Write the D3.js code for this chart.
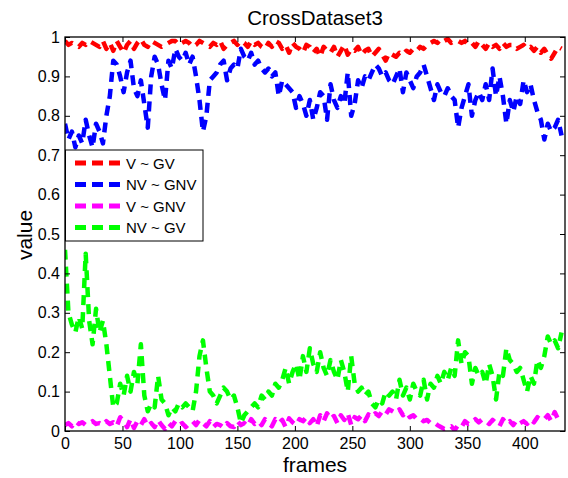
<!DOCTYPE html>
<html><head><meta charset="utf-8">
<script src="https://cdn.jsdelivr.net/npm/d3@7"></script>
<style>
html,body{margin:0;padding:0;background:#fff;}
svg{display:block;font-family:"Liberation Sans",Arial,Helvetica,sans-serif;}
</style></head>
<body><svg id="chart" width="568" height="478"></svg>
<script>
// ---- data (one sample every 3 frames, frames 0..432) ----
const frameStep = 3;
const seriesNames = ["V ~ GV", "NV ~ GNV", "V ~ GNV", "NV ~ GV"];
const seriesColors = ["#ff0000", "#0000ff", "#ff00ff", "#00ff00"];
const xTicks = [0, 50, 100, 150, 200, 250, 300, 350, 400];
const yTicks = [0, 0.1, 0.2, 0.3, 0.4, 0.5, 0.6, 0.7, 0.8, 0.9, 1];

const vGV = [
 0.99,0.98,0.985,0.98,0.975,0.985,0.98,0.99,0.985,0.98,
 0.975,0.99,0.97,0.985,0.965,0.99,0.975,0.96,0.98,0.99,
 0.97,0.985,0.995,0.98,0.975,0.99,0.985,0.98,0.975,0.98,
 0.985,0.99,0.99,0.98,0.985,0.99,0.985,0.975,0.98,0.99,
 0.985,0.98,0.975,0.985,0.98,0.99,0.97,0.98,0.985,0.99,
 0.98,0.99,0.985,0.975,0.99,0.98,0.985,0.975,0.97,0.985,
 0.975,0.99,0.985,0.97,0.98,0.96,0.985,0.975,0.97,0.96,
 0.98,0.975,0.96,0.97,0.95,0.975,0.965,0.96,0.975,0.95,
 0.965,0.98,0.955,0.97,0.965,0.975,0.955,0.965,0.97,0.95,
 0.96,0.97,0.955,0.94,0.96,0.955,0.95,0.96,0.955,0.965,
 0.96,0.97,0.965,0.975,0.97,0.98,0.985,0.99,0.985,0.995,
 0.99,0.995,0.985,0.99,0.99,0.985,0.99,0.98,0.985,0.975,
 0.99,0.98,0.97,0.985,0.975,0.98,0.97,0.985,0.975,0.98,
 0.98,0.97,0.975,0.98,0.97,0.975,0.965,0.975,0.96,0.97,
 0.955,0.945,0.96,0.975,0.97
];
const nvGNV = [
 0.78,0.74,0.76,0.72,0.75,0.73,0.79,0.75,0.72,0.78,
 0.76,0.73,0.80,0.85,0.94,0.93,0.90,0.86,0.91,0.94,
 0.87,0.85,0.89,0.83,0.77,0.90,0.95,0.93,0.88,0.84,
 0.94,0.92,0.97,0.95,0.94,0.96,0.93,0.95,0.90,0.84,
 0.76,0.80,0.89,0.90,0.91,0.93,0.94,0.89,0.92,0.93,
 0.92,0.97,0.95,0.94,0.96,0.93,0.94,0.92,0.91,0.92,
 0.90,0.91,0.85,0.89,0.88,0.87,0.86,0.82,0.85,0.83,
 0.80,0.84,0.79,0.82,0.86,0.85,0.79,0.88,0.84,0.82,
 0.85,0.83,0.91,0.80,0.83,0.89,0.87,0.90,0.89,0.91,
 0.93,0.92,0.90,0.91,0.89,0.88,0.90,0.92,0.86,0.91,
 0.89,0.87,0.90,0.91,0.93,0.90,0.87,0.84,0.88,0.86,
 0.85,0.87,0.85,0.84,0.77,0.82,0.85,0.88,0.80,0.84,
 0.86,0.84,0.88,0.84,0.92,0.85,0.90,0.85,0.78,0.84,
 0.81,0.85,0.83,0.89,0.86,0.88,0.84,0.81,0.79,0.74,
 0.78,0.76,0.77,0.79,0.75
];
const vGNV = [
 0.015,0.02,0.012,0.025,0.018,0.022,0.015,0.02,0.025,0.018,
 0.02,0.015,0.025,0.018,0.022,0.012,0.035,0.025,0.01,0.03,
 0.008,0.025,0.015,0.03,0.012,0.02,0.01,0.028,0.015,0.005,
 0.02,0.012,0.025,0.015,0.02,0.01,0.018,0.025,0.015,0.028,
 0.02,0.012,0.025,0.01,0.018,0.015,0.008,0.02,0.012,0.01,
 0.025,0.015,0.02,0.012,0.03,0.018,0.025,0.015,0.03,0.02,
 0.012,0.03,0.02,0.028,0.01,0.032,0.022,0.015,0.03,0.025,
 0.035,0.02,0.03,0.012,0.04,0.025,0.045,0.03,0.038,0.02,
 0.04,0.028,0.045,0.015,0.035,0.03,0.04,0.025,0.042,0.035,
 0.045,0.038,0.05,0.042,0.055,0.05,0.045,0.055,0.04,0.048,
 0.035,0.04,0.03,0.032,0.025,0.028,0.02,0.022,0.015,0.01,
 0.005,0.008,0.012,0.002,0.015,0.01,0.025,0.018,0.02,0.03,
 0.022,0.03,0.025,0.018,0.028,0.02,0.012,0.03,0.018,0.025,
 0.015,0.028,0.02,0.025,0.018,0.03,0.022,0.035,0.028,0.03,
 0.04,0.025,0.048,0.03,0.035
];
const nvGV = [
 0.46,0.30,0.27,0.25,0.29,0.26,0.45,0.28,0.22,0.31,
 0.25,0.28,0.22,0.14,0.06,0.07,0.12,0.09,0.14,0.10,
 0.15,0.12,0.22,0.09,0.05,0.07,0.06,0.14,0.08,0.07,
 0.04,0.06,0.05,0.07,0.06,0.07,0.06,0.05,0.10,0.19,
 0.23,0.16,0.10,0.09,0.07,0.09,0.11,0.10,0.08,0.09,
 0.06,0.02,0.04,0.05,0.06,0.07,0.06,0.09,0.08,0.10,
 0.09,0.12,0.11,0.13,0.16,0.12,0.15,0.17,0.13,0.19,
 0.15,0.21,0.17,0.15,0.20,0.16,0.14,0.18,0.15,0.13,
 0.18,0.15,0.10,0.19,0.12,0.10,0.11,0.09,0.10,0.07,
 0.06,0.08,0.07,0.10,0.09,0.10,0.08,0.13,0.09,0.11,
 0.08,0.12,0.10,0.09,0.13,0.08,0.12,0.11,0.14,0.12,
 0.15,0.13,0.16,0.14,0.23,0.17,0.20,0.19,0.12,0.16,
 0.14,0.15,0.12,0.17,0.14,0.08,0.15,0.14,0.21,0.18,
 0.17,0.15,0.16,0.13,0.10,0.14,0.12,0.18,0.16,0.19,
 0.24,0.22,0.23,0.21,0.25
];
const seriesValues = [vGV, nvGNV, vGNV, nvGV];

// ---- drawing ----
const svg = d3.select("#chart");
const L = 65, R = 565, T = 37, B = 431;
const x = d3.scaleLinear().domain([0, 435]).range([L, R]);
const y = d3.scaleLinear().domain([0, 1]).range([B, T]);

svg.append("defs").append("clipPath").attr("id","clip")
  .append("rect").attr("x",L).attr("y",T).attr("width",R-L).attr("height",B-T);

const line = d3.line().x((d,i)=>x(i*frameStep)).y(d=>y(d));
const plot = svg.append("g").attr("clip-path","url(#clip)");
seriesValues.forEach((vals, k) => {
  plot.append("path").datum(vals)
    .attr("d", line)
    .attr("fill","none")
    .attr("stroke", seriesColors[k])
    .attr("stroke-width", 4.5)
    .attr("stroke-dasharray","10,7")
    .attr("stroke-linejoin","round");
});

function styleAxis(g){
  g.select(".domain").remove();
  g.selectAll(".tick line").attr("stroke","#000").attr("stroke-width",1);
  g.selectAll("text").attr("font-size","16px").attr("fill","#000")
    .attr("font-family",'"Liberation Sans",Arial,sans-serif');
}
const fmtY = d3.format("~g");
svg.append("g").attr("transform",`translate(${L},0)`)
  .call(d3.axisLeft(y).tickValues(yTicks).tickSizeInner(-5).tickSizeOuter(0).tickPadding(5).tickFormat(fmtY))
  .call(styleAxis);
svg.append("g").attr("transform",`translate(${R},0)`)
  .call(d3.axisRight(y).tickValues(yTicks).tickSizeInner(-5).tickSizeOuter(0).tickFormat(""))
  .call(styleAxis);
svg.append("g").attr("transform",`translate(0,${B})`)
  .call(d3.axisBottom(x).tickValues(xTicks).tickSizeInner(-5).tickSizeOuter(0).tickPadding(7))
  .call(styleAxis);
svg.append("g").attr("transform",`translate(0,${T})`)
  .call(d3.axisTop(x).tickValues(xTicks).tickSizeInner(-5).tickSizeOuter(0).tickFormat(""))
  .call(styleAxis);

svg.append("rect").attr("x",L).attr("y",T).attr("width",R-L).attr("height",B-T)
  .attr("fill","none").attr("stroke","#000").attr("stroke-width",1.3);

// titles
svg.append("text").attr("x",315).attr("y",25).attr("text-anchor","middle")
  .attr("font-size","20.5px").text("CrossDataset3");
svg.append("text").attr("x",315).attr("y",472).attr("text-anchor","middle")
  .attr("font-size","21px").text("frames");
svg.append("text").attr("transform","translate(32,235) rotate(-90)").attr("text-anchor","middle")
  .attr("font-size","21px").text("value");

// legend
const lg = svg.append("g");
lg.append("rect").attr("x",65.5).attr("y",150).attr("width",137.5).attr("height",91)
  .attr("fill","#fff").attr("stroke","#000").attr("stroke-width",1);
seriesNames.forEach((name,k)=>{
  const yy = 163 + k*21.5;
  lg.append("line").attr("x1",75).attr("x2",120).attr("y1",yy).attr("y2",yy)
    .attr("stroke",seriesColors[k]).attr("stroke-width",5).attr("stroke-dasharray","11,6");
  lg.append("text").attr("x",126).attr("y",yy+5.5).attr("font-size","15px").text(name);
});
</script></body></html>
